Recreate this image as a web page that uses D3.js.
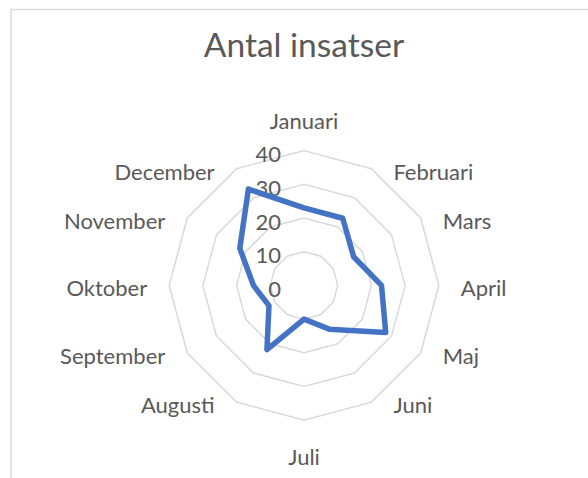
<!DOCTYPE html>
<html>
<head>
<meta charset="utf-8">
<script src="https://cdn.jsdelivr.net/npm/d3@7"></script>
<style>
  html, body { margin: 0; padding: 0; background: #fff; }
  svg { display: block; }
  text { font-family: Lato, "Open Sans", sans-serif; fill: #595959; }
</style>
</head>
<body>
<svg id="chart" width="588" height="478"></svg>
<script>
const months = ["Januari", "Februari", "Mars", "April", "Maj", "Juni",
                "Juli", "Augusti", "September", "Oktober", "November", "December"];
const insatser = [23, 23, 17, 23, 28, 15, 10, 22, 12, 15, 22, 33];
const ticks = [0, 10, 20, 30, 40];

const width = 588, height = 478;
const cx = 304, cy = 285.4;
const outerR = 134.8;

const svg = d3.select("#chart");

// chart area border (cut off at the right and bottom)
svg.append("rect")
    .attr("x", 11).attr("y", 9.5)
    .attr("width", 700).attr("height", 600)
    .attr("fill", "none")
    .attr("stroke", "#d9d9d9")
    .attr("stroke-width", 1.5);

svg.append("text")
    .attr("x", cx).attr("y", 57)
    .attr("text-anchor", "middle")
    .attr("font-size", "33.5px")
    .text("Antal insatser");

const r = d3.scaleLinear().domain([0, 40]).range([0, outerR]);
const angle = d3.scalePoint().domain(months).range([0, 2 * Math.PI * 11 / 12]);

const g = svg.append("g").attr("transform", `translate(${cx},${cy})`);

const ringLine = d3.lineRadial()
    .angle(d => angle(d))
    .curve(d3.curveLinearClosed);

// grid rings
g.selectAll(".ring")
    .data(ticks.filter(t => t > 0))
    .enter().append("path")
    .attr("class", "ring")
    .attr("d", t => ringLine.radius(r(t))(months))
    .attr("fill", "none")
    .attr("stroke", "#d9d9d9")
    .attr("stroke-width", 1.5);

// value axis labels
g.selectAll(".tick")
    .data(ticks)
    .enter().append("text")
    .attr("class", "tick")
    .attr("x", -23)
    .attr("y", d => -r(d) + 11.6)
    .attr("text-anchor", "end")
    .attr("font-size", "22px")
    .text(d => d);

// series
const seriesLine = d3.lineRadial()
    .angle((d, i) => angle(months[i]))
    .radius(d => r(d))
    .curve(d3.curveLinearClosed);

g.append("path")
    .datum(insatser)
    .attr("d", seriesLine)
    .attr("fill", "none")
    .attr("stroke", "#4472c4")
    .attr("stroke-width", 5.5)
    .attr("stroke-linejoin", "round");

// category labels
g.selectAll(".cat")
    .data(months)
    .enter().append("text")
    .attr("class", "cat")
    .attr("font-size", "22px")
    .each(function(m) {
        const a = angle(m);
        const vx = outerR * Math.sin(a);
        const vy = -outerR * Math.cos(a);
        const s = Math.abs(vx) < 1 ? 0 : Math.sign(vx);
        let x = vx + 22 * s, y = vy + 11;
        if (s === 0) y = vy < 0 ? vy - 22 : vy + 45;
        d3.select(this)
            .attr("x", x).attr("y", y)
            .attr("text-anchor", s === 0 ? "middle" : (s > 0 ? "start" : "end"))
            .text(m);
    });
</script>
</body>
</html>
